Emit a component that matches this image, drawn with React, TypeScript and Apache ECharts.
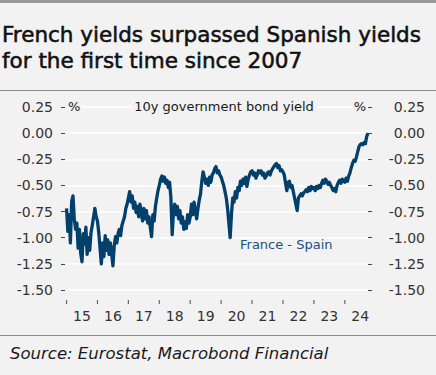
import React, { useEffect, useRef } from "react";
import * as echarts from "echarts";

// France - Spain 10y government bond yield spread (%), half-monthly readings
const years = [2015, 2016, 2017, 2018, 2019, 2020, 2021, 2022, 2023, 2024];
const v2015 = [-0.72, -0.94, -0.78, -1.05, -0.65, -0.6, -0.82, -0.92, -0.86, -1.1, -0.92, -1.15, -1.23, -0.96, -1.06, -0.9, -1.16, -1.0, -1.12, -0.95, -0.88, -0.8, -0.72, -0.8];
const v2016 = [-0.84, -0.95, -1.1, -1.25, -1.05, -1.18, -0.98, -1.12, -1.02, -1.16, -1.05, -1.15, -1.27, -1.08, -0.99, -1.05, -0.96, -0.92, -0.98, -0.88, -0.84, -0.8, -0.72, -0.68];
const v2017 = [-0.62, -0.56, -0.66, -0.6, -0.72, -0.66, -0.76, -0.7, -0.8, -0.68, -0.76, -0.84, -0.72, -0.82, -0.74, -0.86, -0.8, -0.9, -0.99, -0.78, -0.84, -0.7, -0.62, -0.55];
const v2018 = [-0.5, -0.44, -0.41, -0.46, -0.42, -0.48, -0.45, -0.52, -0.47, -0.62, -0.97, -0.75, -0.68, -0.78, -0.7, -0.82, -0.74, -0.86, -0.8, -0.92, -0.85, -0.91, -0.78, -0.86];
const v2019 = [-0.8, -0.68, -0.78, -0.66, -0.74, -0.82, -0.72, -0.64, -0.58, -0.46, -0.37, -0.42, -0.48, -0.44, -0.5, -0.42, -0.47, -0.4, -0.38, -0.34, -0.32, -0.38, -0.36, -0.4];
const v2020 = [-0.42, -0.46, -0.5, -0.56, -0.62, -0.72, -0.86, -1.0, -0.78, -0.62, -0.66, -0.56, -0.62, -0.52, -0.55, -0.46, -0.5, -0.44, -0.48, -0.42, -0.51, -0.44, -0.4, -0.37];
const v2021 = [-0.36, -0.4, -0.38, -0.43, -0.4, -0.36, -0.38, -0.36, -0.4, -0.38, -0.43, -0.41, -0.38, -0.37, -0.4, -0.36, -0.34, -0.32, -0.3, -0.29, -0.33, -0.31, -0.36, -0.35];
const v2022 = [-0.37, -0.4, -0.48, -0.55, -0.47, -0.46, -0.52, -0.5, -0.56, -0.62, -0.68, -0.74, -0.62, -0.6, -0.58, -0.6, -0.57, -0.56, -0.54, -0.56, -0.52, -0.55, -0.51, -0.53];
const v2023 = [-0.52, -0.55, -0.51, -0.53, -0.5, -0.52, -0.48, -0.45, -0.48, -0.44, -0.46, -0.49, -0.47, -0.5, -0.52, -0.55, -0.53, -0.56, -0.5, -0.47, -0.45, -0.48, -0.44, -0.46];
const v2024 = [-0.47, -0.43, -0.46, -0.41, -0.38, -0.33, -0.29, -0.26, -0.27, -0.23, -0.18, -0.13, -0.11, -0.1, -0.11, -0.09, -0.1, -0.03, 0.0];
const yearValues = [v2015, v2016, v2017, v2018, v2019, v2020, v2021, v2022, v2023, v2024];

const xTickYears = years;
const xLabelPos = years.map((y) => y + 0.5);

const title1 = "French yields surpassed Spanish yields";
const title2 = "for the first time since 2007";
const chartTitle = "10y government bond yield";
const seriesName = "France - Spain";
const source = "Source: Eurostat, Macrobond Financial";

const FONT = "'DejaVu Sans', sans-serif";
const LINE = "#00406b";

export default function App() {
  const ref = useRef<HTMLDivElement>(null);
  useEffect(() => {
    if (!ref.current) return;
    const chart = echarts.init(ref.current, undefined, { renderer: "svg" });
    const data: [number, number][] = [];
    years.forEach((yr, k) => {
      yearValues[k].forEach((v, i) => data.push([yr + i / 24, v]));
    });
    const yAxisBase = (pos: "left" | "right") => ({
      type: "value" as const,
      position: pos,
      min: -1.5,
      max: 0.25,
      interval: 0.25,
      axisLine: { show: false },
      axisTick: { show: true, length: 4, lineStyle: { color: "#444", width: 1 } },
      axisLabel: {
        margin: pos === "left" ? 12 : 57,
        align: "right" as const,
        color: "#333",
        fontFamily: FONT,
        fontSize: 14,
        formatter: (v: number) => v.toFixed(2),
      },
      splitLine: pos === "left" ? { show: true, lineStyle: { color: "#ffffff", width: 1.5 } } : { show: false },
    });
    const titleStyle = { font: `21.5px ${FONT}`, fill: "#111", stroke: "#111", lineWidth: 0.55, align: "left", verticalAlign: "middle" };
    chart.setOption({
      animation: false,
      backgroundColor: "#f2f2f2",
      grid: { left: 65, right: 68, top: 107, height: 183, containLabel: false },
      xAxis: {
        type: "value",
        min: 2014.95,
        max: 2024.75,
        offset: 10,
        axisLine: { show: false },
        splitLine: { show: false },
        axisTick: { show: false },
        axisLabel: {
          customValues: xLabelPos,
          margin: 9,
          color: "#333",
          fontFamily: FONT,
          fontSize: 14,
          formatter: (v: number) => String(Math.floor(v) % 100),
        },
      },
      yAxis: [yAxisBase("left"), yAxisBase("right")],
      series: [
        {
          type: "scatter",
          data: xTickYears.map((y) => [y, -1.5]),
          symbol: "rect",
          symbolSize: [1.2, 4],
          symbolOffset: [0, 12],
          clip: false,
          silent: true,
          itemStyle: { color: "#444" },
          z: 1,
        },
        {
          type: "line",
          name: seriesName,
          data,
          showSymbol: false,
          lineStyle: { color: LINE, width: 3.3, join: "round" },
          itemStyle: { color: LINE },
          z: 3,
        },
      ],
      graphic: [
        { type: "rect", shape: { x: 0, y: 0, width: 436, height: 3 }, style: { fill: "#9a9a9a" } },
        { type: "rect", shape: { x: 0, y: 90, width: 436, height: 1 }, style: { fill: "#8a8a8a" } },
        { type: "rect", shape: { x: 0, y: 335, width: 436, height: 1 }, style: { fill: "#8a8a8a" } },
        { type: "text", x: 2, y: 34.3, style: { text: title1, ...titleStyle } },
        { type: "text", x: 2, y: 60.9, style: { text: title2, ...titleStyle } },
        { type: "text", x: 224, y: 106.5, z: 10, style: { text: chartTitle, font: `13px ${FONT}`, fill: "#1a1a1a", align: "center", verticalAlign: "middle", backgroundColor: "#f2f2f2", padding: [0, 2] } },
        { type: "text", x: 67, y: 106.5, z: 10, style: { text: "%", font: `13px ${FONT}`, fill: "#1a1a1a", align: "left", verticalAlign: "middle", backgroundColor: "#f2f2f2", padding: [0, 1] } },
        { type: "text", x: 367, y: 106.5, z: 10, style: { text: "%", font: `13px ${FONT}`, fill: "#1a1a1a", align: "right", verticalAlign: "middle", backgroundColor: "#f2f2f2", padding: [0, 1] } },
        { type: "text", x: 240, y: 244.8, z: 10, style: { text: seriesName, font: `13px ${FONT}`, fill: "#1f4e79", align: "left", verticalAlign: "middle" } },
        { type: "text", x: 10, y: 353.6, style: { text: source, font: `italic 16.5px ${FONT}`, fill: "#1a1a1a", align: "left", verticalAlign: "middle" } },
      ],
    });
    return () => chart.dispose();
  }, []);
  return (
    <div
      ref={ref}
      style={{ position: "fixed", left: 0, top: 0, width: 436, height: 375, background: "#f2f2f2" }}
    />
  );
}
